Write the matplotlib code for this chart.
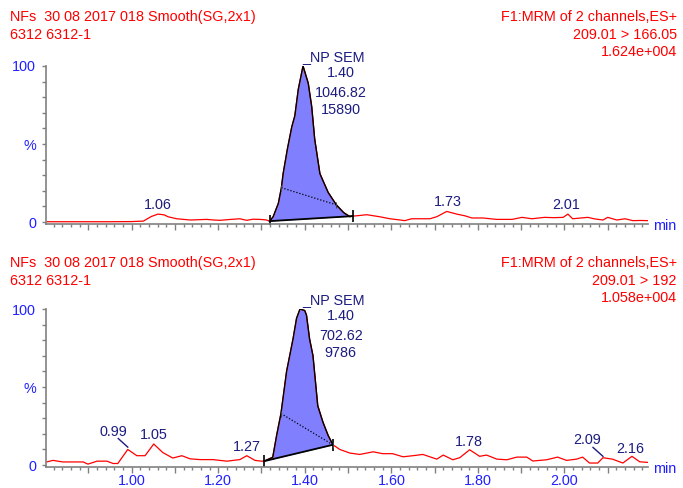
import numpy as np
import matplotlib
matplotlib.use("Agg")
from matplotlib import pyplot as plt
from matplotlib.ticker import MultipleLocator

plt.rcParams['font.family'] = ['Liberation Sans', 'DejaVu Sans']

# trace 1 : 209.01 > 166.05  (time in min, intensity in %)
t_top = [0.805, 0.85, 0.90, 0.95, 1.00, 1.027, 1.045, 1.061, 1.075, 1.084,
         1.104, 1.12, 1.135, 1.155, 1.173, 1.19, 1.204, 1.225, 1.25, 1.266,
         1.28, 1.296, 1.31, 1.319, 1.327, 1.339, 1.346, 1.350, 1.36, 1.370,
         1.377, 1.385, 1.396, 1.408, 1.416, 1.423, 1.435, 1.454, 1.473, 1.49,
         1.504, 1.511, 1.527, 1.543, 1.573, 1.597, 1.615, 1.631, 1.647, 1.67,
         1.689, 1.705, 1.728, 1.751, 1.77, 1.786, 1.812, 1.843, 1.879, 1.902,
         1.925, 1.954, 1.975, 1.997, 2.008, 2.019, 2.054, 2.07, 2.089, 2.1,
         2.121, 2.14, 2.158, 2.175, 2.193]
v_top = [0.2, 0.2, 0.2, 0.2, 0.3, 0.6, 3.5, 5.1, 4.6, 3.4,
         2.1, 1.7, 1.3, 1.5, 1.7, 1.3, 1.1, 1.6, 2.1, 1.1,
         1.8, 1.7, 1.4, 0.6, 3.4, 12, 22, 31, 47, 61,
         68, 85, 100, 89, 74, 53, 31, 19, 11, 6,
         3.5, 3.8, 4.2, 4.7, 3.4, 2.1, 1.5, 0.9, 2.1, 2.1,
         2.1, 3.4, 6.8, 5.1, 4.0, 2.6, 2.6, 1.7, 1.7, 3.0,
         2.1, 3.0, 2.8, 3.0, 5.1, 2.1, 3.0, 2.0, 1.3, 3.0,
         1.3, 2.1, 0.9, 1.0, 0.9]

# trace 2 : 209.01 > 192
t_bot = [0.804, 0.818, 0.841, 0.865, 0.888, 0.899, 0.92, 0.943, 0.957, 0.968,
         0.991, 1.012, 1.031, 1.051, 1.072, 1.095, 1.116, 1.135, 1.158, 1.188,
         1.22, 1.25, 1.266, 1.285, 1.30, 1.306, 1.326, 1.335, 1.345, 1.358,
         1.373, 1.381, 1.389, 1.40, 1.404, 1.411, 1.419, 1.43, 1.442, 1.454,
         1.465, 1.481, 1.504, 1.527, 1.558, 1.58, 1.603, 1.627, 1.65, 1.673,
         1.705, 1.72, 1.742, 1.758, 1.781, 1.804, 1.82, 1.844, 1.867, 1.89,
         1.913, 1.927, 1.959, 1.984, 2.005, 2.028, 2.042, 2.058, 2.077, 2.089,
         2.111, 2.135, 2.156, 2.174, 2.193]
v_bot = [2, 3, 2, 2, 2, 0.6, 2.5, 2.5, 1, 1,
         10, 6, 6, 13.5, 8, 4.5, 6, 4, 3.5, 3.5,
         2.5, 3.5, 6, 3, 2.5, 2.5, 5, 19, 33, 60,
         81, 94, 100, 99, 96, 81, 70, 38, 27.5, 19,
         13, 10, 7.7, 6.8, 8.5, 7.3, 7.3, 5.3, 6, 6.8,
         3.8, 6.4, 3.4, 4.7, 9.8, 5.6, 6.4, 3.8, 3.4, 5.1,
         5.1, 2.6, 3.4, 5.1, 3, 3.8, 5.1, 1.3, 1.3, 4.7,
         3.8, 1.3, 5.6, 2.1, 1.7]

# integration: start/end of baseline, width line
base_top = [(1.319, 0.6), (1.511, 3.8)]
width_top = [(1.346, 22), (1.473, 11)]
base_bot = [(1.306, 2.5), (1.465, 13)]
width_bot = [(1.345, 33), (1.465, 13)]

peak_name = "_NP SEM"
peak_rt = ["1.40", "1.40"]
peak_area = ["1046.82", "702.62"]
peak_height = ["15890", "9786"]

# small peak labels: (time, y, text)
labels_top = [(1.06, 11, "1.06"), (1.731, 13, "1.73"), (2.005, 11, "2.01")]
labels_bot = [(0.957, 21, "0.99"), (1.051, 19, "1.05"), (1.266, 11.7, "1.27"),
              (1.78, 15, "1.78"), (2.053, 16, "2.09"), (2.152, 10.6, "2.16")]
leaders_bot = [[(0.969, 17), (0.991, 11.5)], [(2.066, 11.3), (2.089, 5.6)]]

head_left = ["NFs  30 08 2017 018 Smooth(SG,2x1)", "6312 6312-1"]
head_right_top = ["F1:MRM of 2 channels,ES+", "209.01 > 166.05", "1.624e+004"]
head_right_bot = ["F1:MRM of 2 channels,ES+", "209.01 > 192", "1.058e+004"]

xtick_pos = [0.9, 1.0, 1.1, 1.2, 1.3, 1.4, 1.5, 1.6, 1.7, 1.8, 1.9, 2.0, 2.1]
xtick_lab = ["", "1.00", "", "1.20", "", "1.40", "", "1.60", "", "1.80", "", "2.00", ""]

RED = '#ff0000'
BLUE = '#2020ff'
NAVY = '#1c1c80'
FS = 10.4

fig = plt.figure(figsize=(6.83, 4.88), dpi=100)
ax1 = fig.add_axes([0.0673, 0.5418, 0.8814, 0.3230])
ax2 = fig.add_axes([0.0673, 0.0438, 0.8814, 0.3230])


def draw(ax, t, v, base, width, k, show_x):
    t = np.array(t)
    v = np.array(v)
    ax.plot(t, v, color=RED, lw=0.9)
    (s0, b0), (s1, b1) = base
    m = (t >= s0) & (t <= s1)
    tp, vp = t[m], v[m]
    bl = np.interp(tp, [s0, s1], [b0, b1])
    ax.fill_between(tp, bl, vp, color='#8080ff', lw=0)
    ax.plot(tp, vp, color='black', lw=1.0)
    ax.plot([s0, s1], [b0, b1], color='black', lw=1.3)
    ax.plot([s0, s1], [b0, b1], ls='none', marker='|', ms=9, mew=1.2, color='black')
    (w0, h0), (w1, h1) = width
    ax.plot([w0, w1], [h0, h1], color='black', ls=(0, (1, 1.5)), lw=0.9)
    ax.plot([w0, w1], [h0, h1], ls='none', marker='|', ms=5, mew=0.7, color='#444444')

    ax.text(1.395, 106, peak_name, color=NAVY, fontsize=FS, ha='left', va='center')
    for yy, s in zip([95.5, 83, 72], [peak_rt[k], peak_area[k], peak_height[k]]):
        ax.text(1.483, yy, s, color=NAVY, fontsize=FS, ha='center', va='center')

    ax.set_xlim(0.802, 2.193)
    ax.set_ylim(-1, 100)
    for sp in ['top', 'right']:
        ax.spines[sp].set_visible(False)
    for sp in ['left', 'bottom']:
        ax.spines[sp].set_color('#808080')
        ax.spines[sp].set_linewidth(1.2)

    ax.set_xticks(xtick_pos)
    ax.set_xticklabels(xtick_lab if show_x else [""] * len(xtick_pos))
    ax.xaxis.set_minor_locator(MultipleLocator(0.02))
    ax.set_yticks([0, 50, 100])
    ax.set_yticklabels(["0", "%", "100"])
    ax.yaxis.set_minor_locator(MultipleLocator(10))
    ax.tick_params(axis='x', which='major', length=4.2, width=1, color='#808080',
                   labelcolor=BLUE, labelsize=FS, pad=1.2)
    ax.tick_params(axis='x', which='minor', length=2.4, width=1, color='#808080')
    ax.tick_params(axis='y', which='both', length=3, width=1, color='#808080',
                   labelcolor=BLUE, labelsize=FS, pad=4)
    ax.text(2.204, -2.3, "min", color=BLUE, fontsize=FS, ha='left', va='center',
            clip_on=False)


draw(ax1, t_top, v_top, base_top, width_top, 0, False)
draw(ax2, t_bot, v_bot, base_bot, width_bot, 1, True)

for x, y, s in labels_top:
    ax1.text(x, y, s, color=NAVY, fontsize=FS, ha='center', va='center')
for x, y, s in labels_bot:
    ax2.text(x, y, s, color=NAVY, fontsize=FS, ha='center', va='center')
for (a, b) in leaders_bot:
    ax2.plot([a[0], b[0]], [a[1], b[1]], color=NAVY, lw=1)

for y0, rights in [(0.965, head_right_top), (0.461, head_right_bot)]:
    for i, s in enumerate(head_left):
        fig.text(0.0146, y0 - i * 0.036, s, color=RED, fontsize=FS, ha='left', va='center')
    for i, s in enumerate(rights):
        fig.text(0.991, y0 - i * 0.036, s, color=RED, fontsize=FS, ha='right', va='center')

fig.savefig("out.png", dpi=100)
